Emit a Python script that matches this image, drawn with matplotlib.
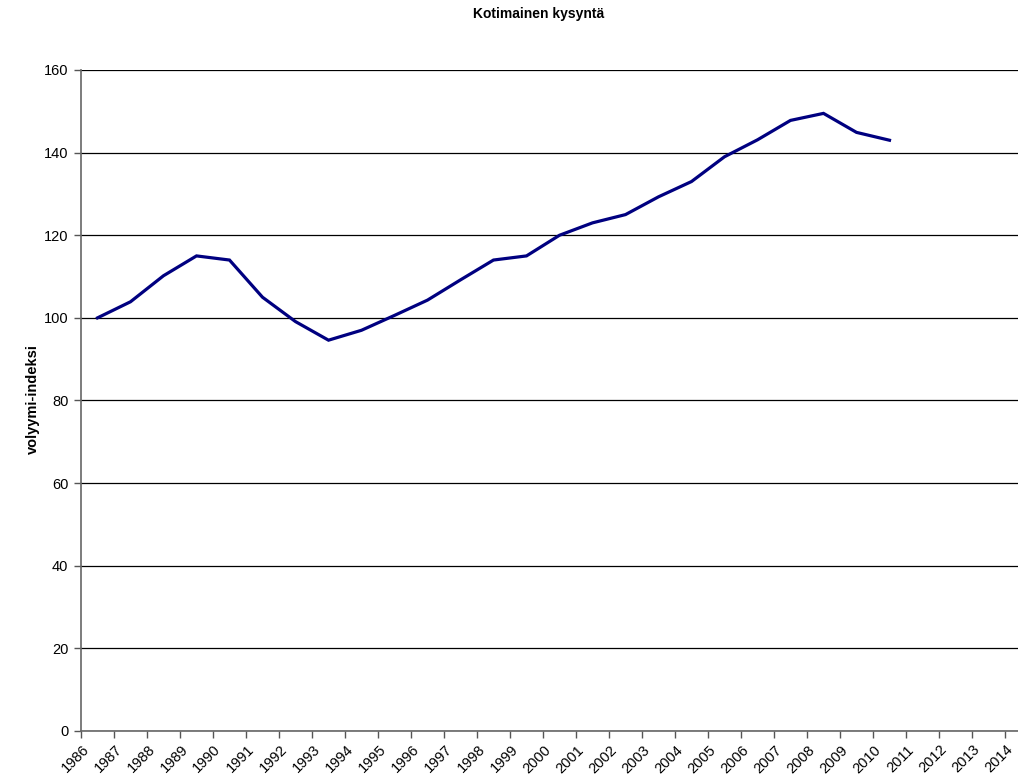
import numpy as np
import matplotlib.pyplot as plt

plt.rcParams['font.family'] = ['Liberation Sans', 'DejaVu Sans']

# category axis runs to 2014, data stops at 2010
years = [str(y) for y in range(1986, 2015)]
values = [100, 103.9, 110.2, 115.0, 114.0, 105.0, 99.1, 94.6, 97.0, 100.6,
          104.3, 109.2, 114.0, 115.0, 120.0, 123.0, 125.0, 129.3, 133.0,
          139.0, 143.1, 147.8, 149.5, 144.9, 143.0]
yticks = [0, 20, 40, 60, 80, 100, 120, 140, 160]

W, H = 1018, 778
fig = plt.figure(figsize=(W / 100, H / 100), dpi=100)
# plot area is wider than the picture, the last category gets cut off
left, right, top, bottom = 81, 81 + 29 * 33, 70, 731
ax = fig.add_axes([left / W, 1 - bottom / H, (right - left) / W, (bottom - top) / H])

x = np.arange(len(values))
ax.plot(x, values, color='#000080', lw=2.3, solid_joinstyle='miter', zorder=3)

ax.set_xlim(-0.5, len(years) - 0.5)
ax.set_ylim(0, 160)
ax.set_yticks(yticks)
ax.set_yticklabels([str(v) for v in yticks], fontsize=10.5)
ax.yaxis.grid(True, color='black', lw=0.9)
ax.set_axisbelow(True)

# ticks between categories, labels at category centres
ax.set_xticks(np.arange(len(years) + 1) - 0.5)
ax.set_xticklabels([])
for i, yr in enumerate(years):
    ax.text(i - 0.18, -2.8, yr, rotation=45, ha='right', va='top',
            fontsize=10.5)
ax.tick_params(axis='x', length=5, width=1, color='#555555', direction='out')
ax.tick_params(axis='y', length=5, width=1, color='#555555', direction='out', pad=4)

for s in ['top', 'right']:
    ax.spines[s].set_visible(False)
for s in ['left', 'bottom']:
    ax.spines[s].set_color('#666666')
    ax.spines[s].set_linewidth(1.2)

fig.text(539 / W, 1 - 14 / H, 'Kotimainen kysyntä', ha='center', va='center',
         fontsize=10, fontweight='bold')
fig.text(33 / W, 1 - 399 / H, 'volyymi-indeksi', ha='center', va='center',
         rotation=90, fontsize=10.5, fontweight='bold')

fig.savefig('out.png', dpi=100)
